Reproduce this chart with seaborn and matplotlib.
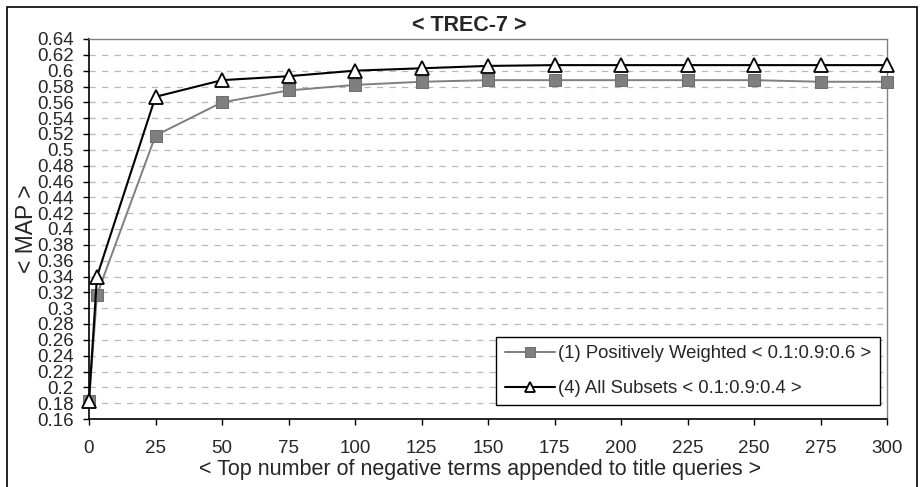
import matplotlib
matplotlib.use("Agg")
import matplotlib.pyplot as plt
import seaborn as sns
import pandas as pd
from matplotlib.patches import Rectangle

# ---- data ----
x_terms = [0, 3, 25, 50, 75, 100, 125, 150, 175, 200, 225, 250, 275, 300]
map_positively_weighted = [0.183, 0.317, 0.518, 0.560, 0.575, 0.582, 0.586, 0.588,
                           0.588, 0.588, 0.588, 0.588, 0.586, 0.586]
map_all_subsets = [0.183, 0.340, 0.567, 0.588, 0.593, 0.600, 0.603, 0.606,
                   0.607, 0.607, 0.607, 0.607, 0.607, 0.607]
label_pw = "(1) Positively Weighted < 0.1:0.9:0.6 >"
label_all = "(4) All Subsets < 0.1:0.9:0.4 >"
x_ticks = list(range(0, 301, 25))
y_ticks = [round(0.16 + 0.02 * i, 2) for i in range(25)]
y_tick_labels = [("%.2f" % v).rstrip("0").rstrip(".") for v in y_ticks]

df = pd.DataFrame({
    "x": x_terms * 2,
    "MAP": map_positively_weighted + map_all_subsets,
    "series": [label_pw] * len(x_terms) + [label_all] * len(x_terms),
})

sns.set_theme(style="white")
plt.rcParams["font.family"] = ["Liberation Sans", "DejaVu Sans"]

fig = plt.figure(figsize=(9.24, 4.87), dpi=100)
ax = fig.add_axes([89 / 924, 68 / 487, 798 / 924, 380 / 487])

sns.lineplot(data=df[df.series == label_pw], x="x", y="MAP", ax=ax,
             color="#7f7f7f", linewidth=1.4, marker="s", markersize=9,
             markerfacecolor="#7f7f7f", markeredgecolor="#6f6f6f",
             label=label_pw, zorder=3, clip_on=False)
sns.lineplot(data=df[df.series == label_all], x="x", y="MAP", ax=ax,
             color="black", linewidth=1.5, marker="^", markersize=10.5,
             markerfacecolor="white", markeredgecolor="black", markeredgewidth=1.3,
             label=label_all, zorder=4, clip_on=False)

ax.set_xlim(0, 300)
ax.set_ylim(0.16, 0.64)
ax.set_xticks(x_ticks)
ax.set_xticklabels([str(t) for t in x_ticks], fontsize=13.5)
ax.set_yticks(y_ticks)
ax.set_yticklabels(y_tick_labels, fontsize=13.5)
ax.tick_params(axis="both", direction="out", length=4, width=1, color="black",
               bottom=True, left=True)
ax.tick_params(axis="y", pad=7)
ax.tick_params(axis="x", pad=11)

for v in y_ticks[1:-1]:
    ax.axhline(v, color="#b8b8b8", linewidth=0.9, linestyle=(0, (5, 5)), zorder=1)

for side in ["left", "bottom"]:
    ax.spines[side].set_color("black")
    ax.spines[side].set_linewidth(1.2)
for side in ["top", "right"]:
    ax.spines[side].set_color("#808080")
    ax.spines[side].set_linewidth(1.0)

ax.set_xlabel("< Top number of negative terms appended to title queries >",
              fontsize=15.5, labelpad=0)
ax.xaxis.set_label_coords(0.49, -0.105)
ax.set_ylabel("< MAP >", fontsize=16.5)
ax.yaxis.set_label_coords(-0.064, 0.5)
ax.set_title("< TREC-7 >", fontsize=15.5, fontweight="bold", pad=6, x=0.477)

leg = ax.legend(loc="lower right", bbox_to_anchor=(0.991, 0.036), fontsize=13.3,
                frameon=True, fancybox=False, handlelength=2.7, markerscale=0.75,
                handletextpad=0.2, borderpad=0.45, labelspacing=0.95,
                borderaxespad=0)
leg.get_frame().set_edgecolor("black")
leg.get_frame().set_linewidth(1.0)
leg.get_frame().set_facecolor("white")
leg.get_frame().set_alpha(1)

fig.patches.append(Rectangle((7 / 924, -0.05), 910 / 924, (480 / 487) + 0.05,
                             transform=fig.transFigure, fill=False,
                             edgecolor="black", linewidth=1.2))

fig.savefig("out.png", dpi=100, facecolor="white")
